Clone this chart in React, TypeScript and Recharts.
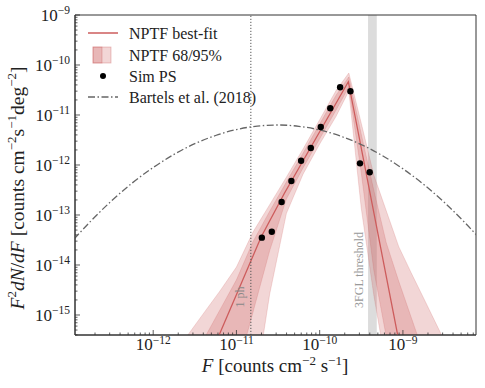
import {
    ComposedChart,
    XAxis,
    YAxis,
    Line,
    Area,
    Scatter,
    ReferenceArea,
    ReferenceLine,
} from 'recharts';

// flux grid for the NPTF bands
const fluxGrid = [2.51e-12, 3.98e-12, 6.31e-12, 1.0e-11, 1.58e-11, 2.51e-11, 3.98e-11, 6.31e-11, 1.0e-10,
    1.58e-10, 2.24e-10, 3.16e-10, 4.47e-10, 6.31e-10, 8.91e-10, 1.26e-9, 2.0e-9, 3.16e-9];
const band95High = [3.65e-16, 1.05e-15, 2.99e-15, 9.08e-15, 4.55e-14, 1.61e-13, 5.7e-13, 2.08e-12, 8.05e-12,
    3.12e-11, 6.92e-11, 6.82e-12, 6.28e-13, 1.21e-13, 2.33e-14, 6.92e-15, 1.44e-15, 3.02e-16];
const band68High = [7.62e-17, 3.09e-16, 1.25e-15, 5.04e-15, 2.92e-14, 1.19e-13, 4.55e-13, 1.72e-12, 6.61e-12,
    2.52e-11, 5.75e-11, 4.13e-12, 3.13e-13, 2.78e-14, 4.72e-15, 8.87e-16, 9.55e-17, 1.05e-17];
const band68Low = [1.66e-20, 2.68e-19, 4.29e-18, 6.98e-17, 1.14e-15, 1.94e-14, 2.09e-13, 8.75e-13, 3.34e-12,
    1.27e-11, 3.63e-11, 7.01e-13, 7.91e-15, 3.7e-16, 1.75e-17, 8.3e-19, 1.41e-20, 2.44e-22];
const band95Low = [3.9e-26, 5.75e-24, 8.3e-22, 1.23e-19, 1.82e-17, 2.63e-15, 1.07e-13, 6.55e-13, 2.63e-12,
    9.51e-12, 3.02e-11, 1.36e-13, 2.5e-15, 8.95e-17, 3.22e-18, 1.15e-19, 1.36e-21, 1.63e-23];

// best-fit broken power law vertices
const fitF = [4.83e-12, 1.98e-11, 3.77e-11, 2.21e-10, 9.48e-10];
const fitY = [1.51e-16, 3.63e-14, 2.72e-13, 4.63e-11, 1.82e-16];

// simulated point sources
const simF = [2.02e-11, 2.66e-11, 3.49e-11, 4.57e-11, 5.98e-11, 7.82e-11, 1.03e-10, 1.34e-10, 1.76e-10,
    2.34e-10, 3.05e-10, 3.99e-10];
const simY = [3.52e-14, 4.63e-14, 1.82e-13, 4.79e-13, 1.22e-12, 2.19e-12, 5.75e-12, 1.36e-11, 3.58e-11,
    2.98e-11, 1.08e-12, 7.14e-13];

// Bartels et al. (2018)
const bartelsF = [1.12e-13, 1.78e-13, 3.16e-13, 5.62e-13, 1e-12, 1.78e-12, 3.16e-12, 5.62e-12, 1e-11, 1.78e-11,
    3.16e-11, 5.62e-11, 1e-10, 1.78e-10, 3.16e-10, 5.62e-10, 1e-9, 1.78e-9, 3.16e-9, 5.62e-9, 7.94e-9];
const bartelsY = [3.31e-14, 7.55e-14, 1.92e-13, 4.39e-13, 8.91e-13, 1.63e-12, 2.67e-12, 3.89e-12, 5.11e-12,
    6.0e-12, 6.31e-12, 5.94e-12, 5.01e-12, 3.78e-12, 2.56e-12, 1.55e-12, 8.39e-13, 4.07e-13, 1.77e-13,
    6.89e-14, 3.72e-14];

const onePhotonF = 1.49e-11;
const thresholdBand = [3.81e-10, 4.85e-10];

const xDomain = [1.15e-13, 7.55e-9];
const yDomain = [3.98e-16, 1e-9];
const xMajor = [1e-13, 1e-12, 1e-11, 1e-10, 1e-9, 1e-8];
const yMajor = [1e-16, 1e-15, 1e-14, 1e-13, 1e-12, 1e-11, 1e-10, 1e-9];

const withMinors = (majors: number[], [lo, hi]: number[]) => {
    const out: number[] = [];
    majors.forEach((m) => {
        for (let k = 1; k < 10; k++) {
            const v = m * k;
            if (v >= lo * 1.001 && v <= hi * 1.0001) out.push(v);
        }
    });
    return out;
};

const bandData = fluxGrid.map((f, i) => ({
    f,
    b95: [band95Low[i], band95High[i]],
    b68: [band68Low[i], band68High[i]],
}));
const fitData = fitF.map((f, i) => ({ f, y: fitY[i] }));
const simData = simF.map((f, i) => ({ f, y: simY[i] }));
const bartelsData = bartelsF.map((f, i) => ({ f, y: bartelsY[i] }));

const RED = '#cd5c5c';
const AXIS = '#333';
const FONT = '"Liberation Serif", "DejaVu Serif", serif';
const DASHDOT = '7 2.5 1.5 2.5';

const isMajor = (v: number) => Math.abs(Math.log10(v) - Math.round(Math.log10(v))) < 1e-6;

const XTick = (props: any) => {
    const { x, y, payload } = props;
    const v = payload.value;
    const major = isMajor(v);
    const e = Math.round(Math.log10(v));
    return (
        <g>
            <line x1={x} x2={x} y1={y} y2={y - (major ? 5 : 2.5)} stroke={AXIS} strokeWidth={0.8} />
            {major && (
                <text x={x} y={y + 15} textAnchor="middle" fontFamily={FONT} fontSize={17} fill="#222">
                    10<tspan dy={-6} fontSize={11.5}>{'\u2212' + Math.abs(e)}</tspan>
                </text>
            )}
        </g>
    );
};

const YTick = (props: any) => {
    const { x, y, payload } = props;
    const v = payload.value;
    const major = isMajor(v);
    const e = Math.round(Math.log10(v));
    return (
        <g>
            <line x1={x} x2={x + (major ? 5 : 2.5)} y1={y} y2={y} stroke={AXIS} strokeWidth={0.8} />
            {major && (
                <text x={x - 5} y={y + 6} textAnchor="end" fontFamily={FONT} fontSize={17} fill="#222">
                    10<tspan dy={-7} fontSize={11.5}>{'\u2212' + Math.abs(e)}</tspan>
                </text>
            )}
        </g>
    );
};

const Overlay = () => (
    <svg width={485} height={388} style={{ position: 'absolute', left: 0, top: 0, pointerEvents: 'none' }}>
        {/* legend */}
        <g fontFamily={FONT} fontSize={16} fill="#222">
            <line x1={88} x2={118} y1={33} y2={33} stroke={RED} strokeWidth={1.5} />
            <text x={129} y={33} dominantBaseline="central">NPTF best-fit</text>
            <rect x={93} y={47} width={18} height={16} fill={RED} fillOpacity={0.25} stroke={RED} strokeOpacity={0.4} strokeWidth={0.8} />
            <rect x={93} y={47} width={9} height={16} fill={RED} fillOpacity={0.25} stroke={RED} strokeOpacity={0.4} strokeWidth={0.8} />
            <text x={129} y={55} dominantBaseline="central">NPTF 68/95%</text>
            <circle cx={103} cy={76} r={3} fill="#000" />
            <text x={129} y={76.5} dominantBaseline="central">Sim PS</text>
            <line x1={88} x2={118} y1={97} y2={97} stroke="#666" strokeWidth={1.5} strokeDasharray={DASHDOT} />
            <text x={129} y={97.5} dominantBaseline="central">Bartels et al. (2018)</text>
        </g>
        {/* annotations */}
        <text x={240} y={297} transform="rotate(-90 240 297)" textAnchor="middle" dominantBaseline="central"
            fontFamily={FONT} fontSize={12} fill="#888">1 ph</text>
        <text x={359} y={270} transform="rotate(-90 359 270)" textAnchor="middle" dominantBaseline="central"
            fontFamily={FONT} fontSize={12} fill="#999">3FGL threshold</text>
        {/* axis titles */}
        <text x={275} y={372} textAnchor="middle" fontFamily={FONT} fontSize={19} fill="#222">
            <tspan fontStyle="italic">F</tspan> [counts cm<tspan dy={-7} fontSize={13}>{'\u22122'}</tspan>
            <tspan dy={7}> s</tspan><tspan dy={-7} fontSize={13}>{'\u22121'}</tspan><tspan dy={7}>]</tspan>
        </text>
        <text x={24} y={188} transform="rotate(-90 24 188)" textAnchor="middle" fontFamily={FONT} fontSize={19.5} fill="#222">
            <tspan fontStyle="italic">F</tspan><tspan dy={-8} fontSize={13}>2</tspan>
            <tspan dy={8} fontStyle="italic">dN</tspan>/<tspan fontStyle="italic">dF</tspan> [counts cm
            <tspan dy={-8} fontSize={13}>{'\u22122'}</tspan><tspan dy={8}>s</tspan>
            <tspan dy={-8} fontSize={13}>{'\u22121'}</tspan><tspan dy={8}>deg</tspan>
            <tspan dy={-8} fontSize={13}>{'\u22122'}</tspan><tspan dy={8}>]</tspan>
        </text>
    </svg>
);

export default function App() {
    return (
        <div style={{ position: 'absolute', left: 0, top: 0, width: 485, height: 388, background: '#fff' }}>
            <ComposedChart width={485} height={388} margin={{ top: 15, right: 9, bottom: 0, left: 0 }}>
                <XAxis
                    dataKey="f"
                    type="number"
                    scale="log"
                    domain={xDomain}
                    allowDataOverflow
                    ticks={withMinors(xMajor, xDomain)}
                    interval={0}
                    tickSize={0}
                    tickMargin={0}
                    tickLine={false}
                    tick={(p: any) => <XTick {...p} />}
                    height={53}
                    stroke={AXIS}
                />
                <YAxis
                    type="number"
                    scale="log"
                    domain={yDomain}
                    allowDataOverflow
                    ticks={withMinors(yMajor, yDomain)}
                    interval={0}
                    tickSize={0}
                    tickMargin={0}
                    tickLine={false}
                    tick={(p: any) => <YTick {...p} />}
                    width={75}
                    stroke={AXIS}
                />
                <ReferenceArea x1={thresholdBand[0]} x2={thresholdBand[1]} y1={yDomain[0]} y2={yDomain[1]}
                    fill="#dcdcdc" fillOpacity={1} stroke="none" />
                <Area data={bandData} dataKey="b95" type="linear" fill={RED} fillOpacity={0.25}
                    stroke={RED} strokeOpacity={0.25} strokeWidth={0.8} isAnimationActive={false} dot={false} activeDot={false} />
                <Area data={bandData} dataKey="b68" type="linear" fill={RED} fillOpacity={0.25}
                    stroke={RED} strokeOpacity={0.25} strokeWidth={0.8} isAnimationActive={false} dot={false} activeDot={false} />
                <Line data={fitData} dataKey="y" type="linear" stroke={RED} strokeWidth={1.3} dot={false}
                    activeDot={false} isAnimationActive={false} />
                <Line data={bartelsData} dataKey="y" type="monotone" stroke="#666" strokeWidth={1.3}
                    strokeDasharray={DASHDOT} dot={false} activeDot={false} isAnimationActive={false} />
                <ReferenceLine x={onePhotonF} stroke="#555" strokeWidth={1} strokeDasharray="1.2 1.8" />
                <Scatter data={simData} dataKey="y" fill="#000" shape={(p: any) => <circle cx={p.cx} cy={p.cy} r={3.2} fill="#000" />}
                    isAnimationActive={false} />
                <ReferenceArea x1={xDomain[0]} x2={xDomain[1]} y1={yDomain[0]} y2={yDomain[1]}
                    fill="none" stroke={AXIS} strokeWidth={1} />
            </ComposedChart>
            <Overlay />
        </div>
    );
}
